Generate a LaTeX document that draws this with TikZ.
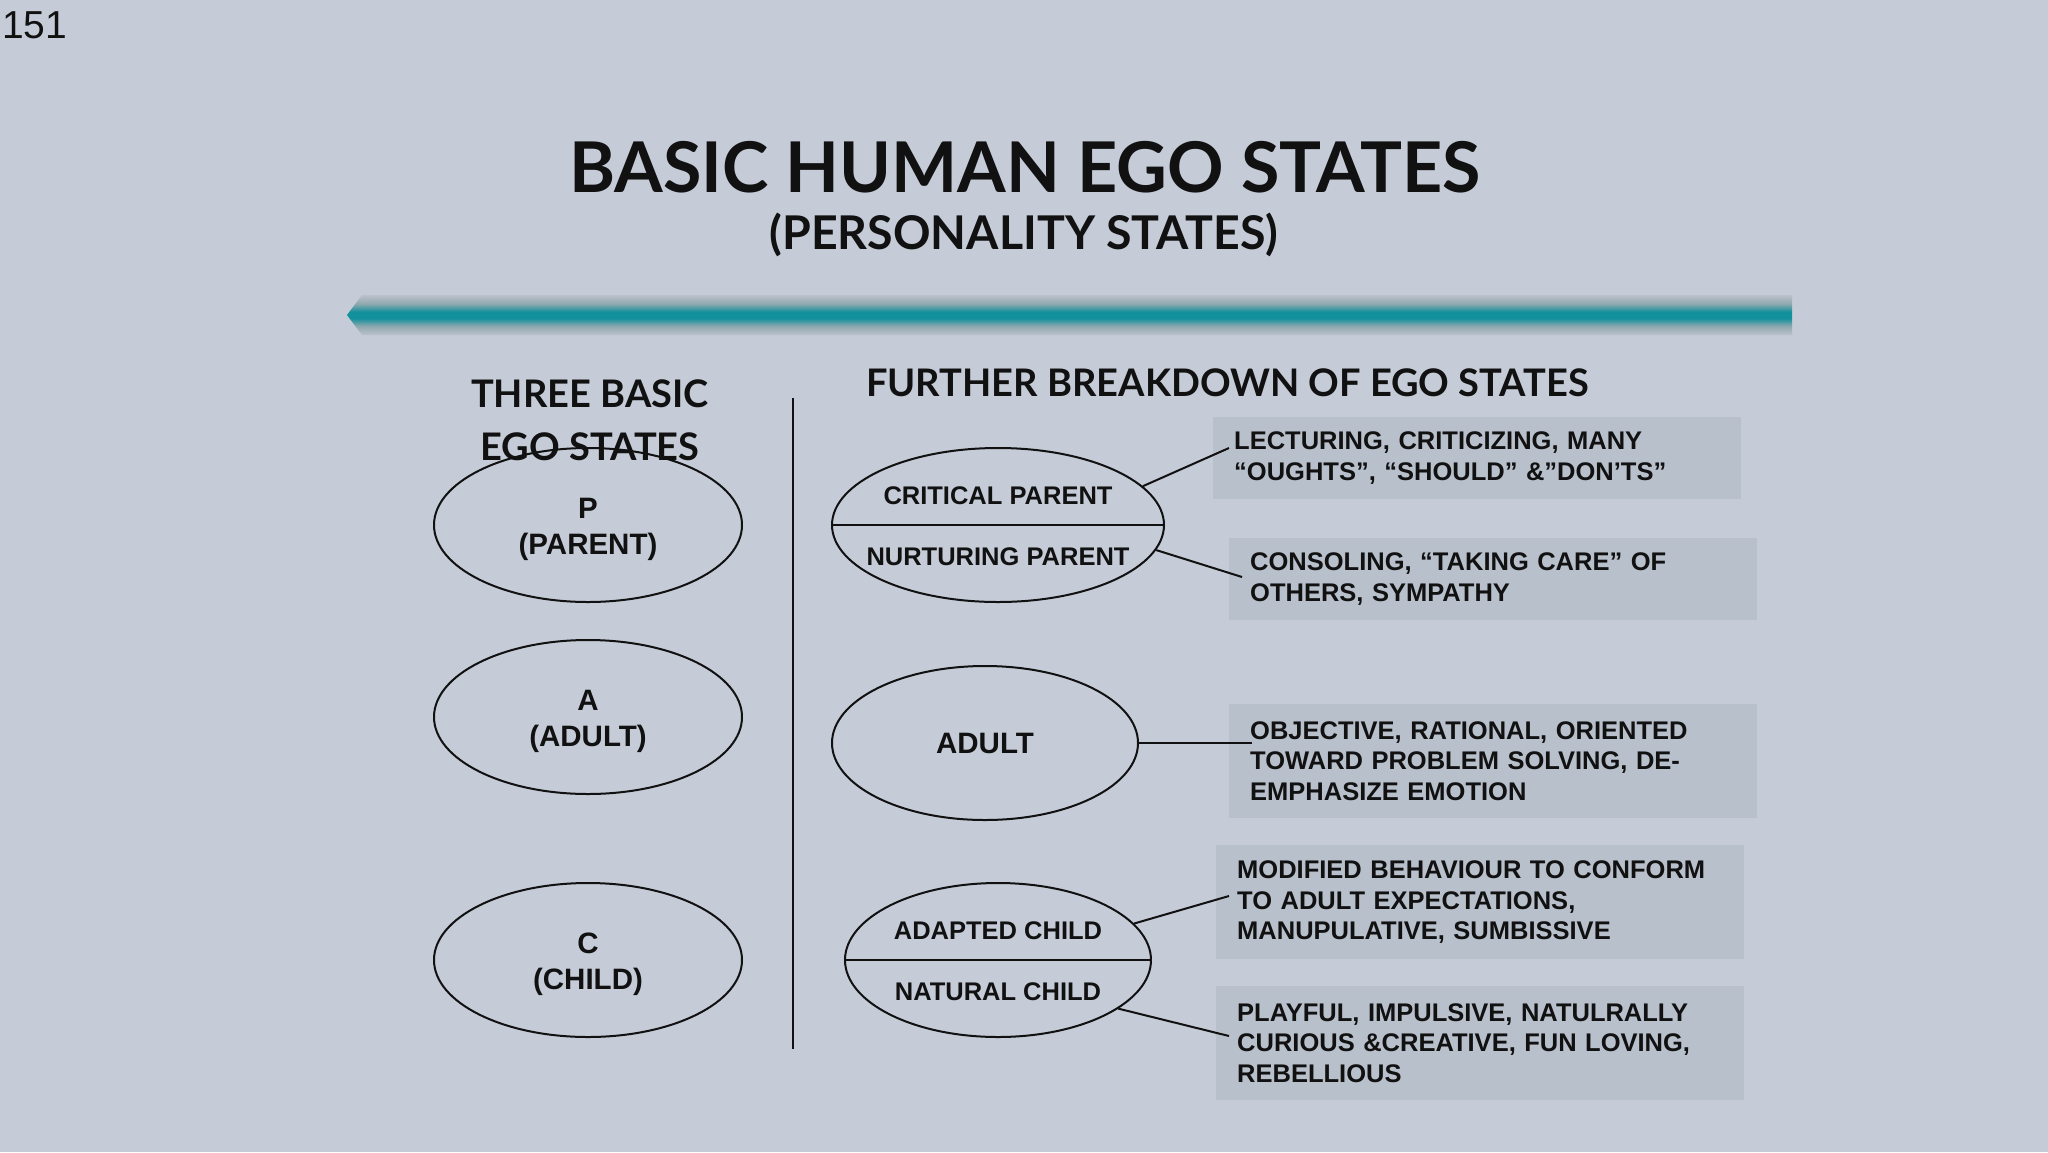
\documentclass[tikz,border=0pt]{standalone}
\usepackage{fontspec}
\setmainfont{Liberation Sans}
\newfontfamily\latofont{Lato}
\usetikzlibrary{shapes.geometric}
\definecolor{bg}{HTML}{C5CCD8}
\definecolor{boxfill}{HTML}{B8C0CC}
\definecolor{barteal}{HTML}{12909B}
\definecolor{baredge}{HTML}{BDC1CA}
\definecolor{barmid}{HTML}{8FA9B0}
\definecolor{ink}{HTML}{111111}
\pgfdeclareverticalshading{barshade}{100bp}{color(0bp)=(baredge); color(25bp)=(baredge); color(36bp)=(barmid); color(46bp)=(barteal); color(50bp)=(barteal); color(54bp)=(barteal); color(64bp)=(barmid); color(75bp)=(baredge); color(100bp)=(baredge)}
\begin{document}
\begin{tikzpicture}[x=1pt,y=-1pt,
  txt/.style={inner sep=0pt, text=ink},
  hdr/.style={txt, font=\latofont\bfseries\fontsize{38}{44}\selectfont},
  egoL/.style={ellipse, draw=ink, line width=2pt, minimum width=308pt, minimum height=154pt, inner sep=0pt, align=center, text=ink, font=\bfseries\fontsize{29.5}{36}\selectfont},
  egoS/.style={ellipse, draw=ink, line width=2pt, minimum height=154pt, inner sep=0pt},
  split/.style={draw=ink, line width=2pt},
  lbl/.style={txt, font=\bfseries\fontsize{25.5}{30}\selectfont},
  ellbl/.style={txt, align=center, font=\bfseries\fontsize{29.5}{36}\selectfont},
  descbox/.style={fill=boxfill, anchor=north west, inner xsep=21pt, inner ysep=0pt, text width=486pt, align=left, text=ink, font=\bfseries\fontsize{25.5}{30.5}\selectfont},
  conn/.style={draw=ink, line width=2pt},
  divider/.style={draw=ink, line width=2.5pt}]
\useasboundingbox (0,0) rectangle (2048,1152);
\fill[bg] (0,0) rectangle (2048,1152);
% page number
\node[txt, anchor=base west, font=\fontsize{39}{44}\selectfont] (pg) at (2,38) {151};
% titles
\node[txt, anchor=base, font=\latofont\bfseries\fontsize{70}{80}\selectfont] (title) at (1025,192) {BASIC HUMAN EGO STATES};
\node[txt, anchor=base, font=\latofont\bfseries\fontsize{46.5}{54}\selectfont] (sub) at (1024,249) {(PERSONALITY STATES)};
% teal bar
\shade[shading=barshade] (347,315) -- (362,295) -- (1792,295) -- (1792,335) -- (362,335) -- cycle;
% headers
\node[hdr, anchor=base] (h1) at (590,407) {THREE BASIC};
\node[hdr, anchor=base] (h2) at (590,460) {EGO STATES};
\node[hdr, anchor=base west] (h3) at (866,396) {FURTHER BREAKDOWN OF EGO STATES};
% divider
\coordinate (vt) at (793,398);
\coordinate (vb) at (793,1049);
\draw[divider] (vt) -- (vb);
% left ellipses
\node[egoL] (P) at (588,525) {};
\node[egoL] (A) at (588,717) {};
\node[egoL] (C) at (588,960) {};
\node[ellbl] (Pt) at (588,529) {P\\(PARENT)};
\node[ellbl] (At) at (588,721) {A\\(ADULT)};
\node[ellbl] (Ct) at (588,964) {C\\(CHILD)};
% parent split ellipse
\node[egoS, minimum width=332pt] (par) at (998,525) {};
\draw[split] (par.west) -- (par.east);
\node[lbl] (cpt) at (998,496) {CRITICAL PARENT};
\node[lbl] (npt) at (998,557) {NURTURING PARENT};
% adult
\node[egoS, minimum width=306pt, text=ink, font=\bfseries\fontsize{29.5}{36}\selectfont] (adult) at (985,743) {ADULT};
% child split ellipse
\node[egoS, minimum width=306pt] (chi) at (998,960) {};
\draw[split] (chi.west) -- (chi.east);
\node[lbl] (act) at (998,931) {ADAPTED CHILD};
\node[lbl] (nct) at (998,992) {NATURAL CHILD};
% description boxes
\node[descbox, minimum height=82pt] (d1) at (1213,417) {LECTURING, CRITICIZING, MANY\\“OUGHTS”, “SHOULD” \&”DON’TS”};
\node[descbox, minimum height=82pt] (d2) at (1229,538) {CONSOLING, “TAKING CARE” OF\\OTHERS, SYMPATHY};
\node[descbox, minimum height=114pt] (d3) at (1229,704) {OBJECTIVE, RATIONAL, ORIENTED\\TOWARD PROBLEM SOLVING, DE-\\EMPHASIZE EMOTION};
\node[descbox, minimum height=114pt] (d4) at (1216,845) {MODIFIED BEHAVIOUR TO CONFORM\\TO ADULT EXPECTATIONS,\\MANUPULATIVE, SUMBISSIVE};
\node[descbox, minimum height=114pt] (d5) at (1216,986) {PLAYFUL, IMPULSIVE, NATULRALLY\\CURIOUS \&CREATIVE, FUN LOVING,\\REBELLIOUS};
% connectors
\coordinate (e1) at (1229,448);
\coordinate (e2) at (1242,577);
\coordinate (e3) at (1252,743);
\coordinate (e4) at (1229,896);
\coordinate (e5) at (1229,1036);
\draw[conn] (par.15) -- (e1);
\draw[conn] (par.-9) -- (e2);
\draw[conn] (adult.east) -- (e3);
\draw[conn] (chi.15) -- (e4);
\draw[conn] (chi.-22) -- (e5);
\end{tikzpicture}
\end{document}
